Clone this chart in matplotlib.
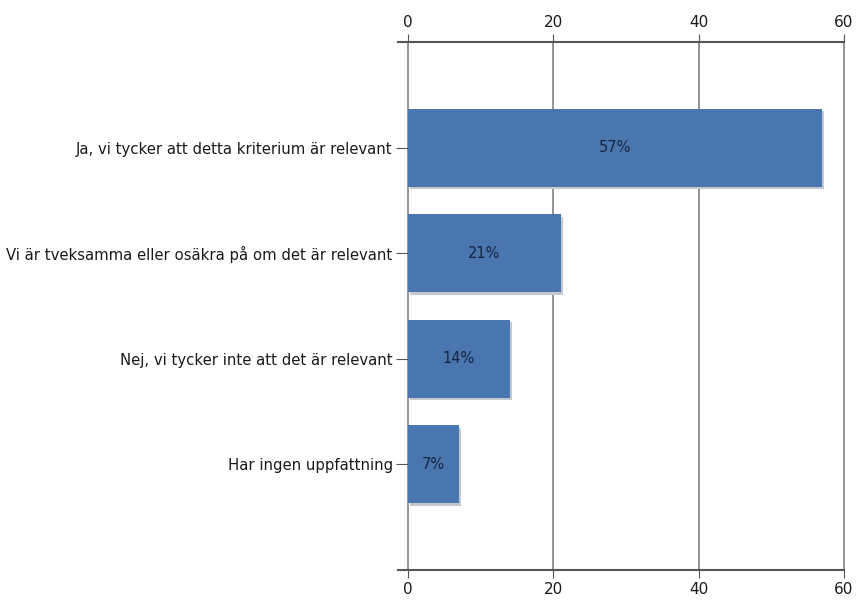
import matplotlib.pyplot as plt
import numpy as np

categories = [
    "Ja, vi tycker att detta kriterium är relevant",
    "Vi är tveksamma eller osäkra på om det är relevant",
    "Nej, vi tycker inte att det är relevant",
    "Har ingen uppfattning",
]
values = [57, 21, 14, 7]
bar_labels = ["57%", "21%", "14%", "7%"]
xticks = [0, 20, 40, 60]

fig = plt.figure(figsize=(8.59, 6.05), dpi=100)
ax = fig.add_axes([0.475, 0.058, 0.5075, 0.8725])

y = np.arange(len(categories))
# soft shadow behind bars
ax.barh(y + 0.025, values, height=0.74, left=0.3, color="#c4c8cf", zorder=2)
ax.barh(y, values, height=0.74, color="#4a76b0", zorder=3)

for yi, v, lab in zip(y, values, bar_labels):
    ax.text(v / 2, yi, lab, ha="center", va="center", fontsize=10.5,
            color="#17243d", zorder=4)

ax.set_xlim(0, 60)
ax.set_ylim(len(categories), -1)
ax.set_xticks(xticks)
ax.set_yticks(y)
ax.set_yticklabels(categories, fontsize=10.7, color="#1a1a1a")

ax.xaxis.set_ticks_position("both")
ax.tick_params(axis="x", which="both", labeltop=True, labelbottom=True,
               direction="out", length=6, color="#555555", labelsize=11,
               labelcolor="#1a1a1a", pad=3)
ax.tick_params(axis="y", length=9, color="#555555", pad=2)

for xv in xticks:
    ax.axvline(xv, color="#8a8a8a", linewidth=1.3, zorder=1, clip_on=False)

for s in ["left", "right"]:
    ax.spines[s].set_visible(False)
for s in ["top", "bottom"]:
    ax.spines[s].set_color("#555555")
    ax.spines[s].set_linewidth(1.5)
    ax.spines[s].set_bounds(-1.4, 60)

fig.savefig("out.png", dpi=100)
